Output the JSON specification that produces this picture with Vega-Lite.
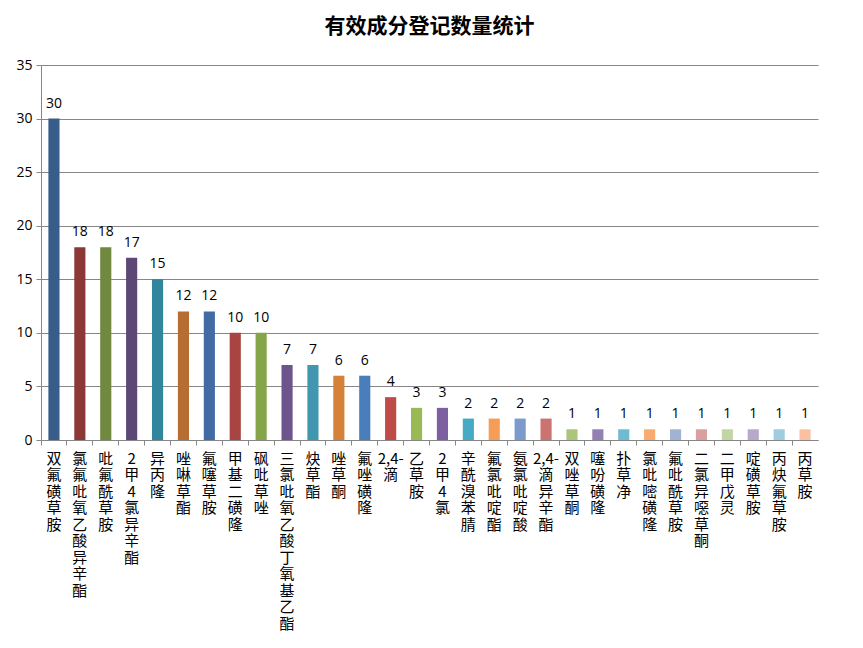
{
  "$schema": "https://vega.github.io/schema/vega-lite/v6.json",
  "width": 777,
  "height": 375,
  "autosize": {"type": "none"},
  "padding": {"left": 41, "top": 65, "right": 45, "bottom": 208},
  "background": "white",
  "title": {
    "text": "有效成分登记数量统计",
    "font": "Noto Sans CJK SC",
    "fontSize": 21,
    "fontWeight": "bold",
    "color": "#000000",
    "anchor": "middle",
    "offset": 21
  },
  "data": {
    "values": [
      {"name": "双氟磺草胺", "count": 30},
      {"name": "氯氟吡氧乙酸异辛酯", "count": 18},
      {"name": "吡氟酰草胺", "count": 18},
      {"name": "2甲4氯异辛酯", "count": 17},
      {"name": "异丙隆", "count": 15},
      {"name": "唑啉草酯", "count": 12},
      {"name": "氟噻草胺", "count": 12},
      {"name": "甲基二磺隆", "count": 10},
      {"name": "砜吡草唑", "count": 10},
      {"name": "三氯吡氧乙酸丁氧基乙酯", "count": 7},
      {"name": "炔草酯", "count": 7},
      {"name": "唑草酮", "count": 6},
      {"name": "氟唑磺隆", "count": 6},
      {"name": "2,4-滴", "count": 4},
      {"name": "乙草胺", "count": 3},
      {"name": "2甲4氯", "count": 3},
      {"name": "辛酰溴苯腈", "count": 2},
      {"name": "氟氯吡啶酯", "count": 2},
      {"name": "氨氯吡啶酸", "count": 2},
      {"name": "2,4-滴异辛酯", "count": 2},
      {"name": "双唑草酮", "count": 1},
      {"name": "噻吩磺隆", "count": 1},
      {"name": "扑草净", "count": 1},
      {"name": "氯吡嘧磺隆", "count": 1},
      {"name": "氟吡酰草胺", "count": 1},
      {"name": "二氯异噁草酮", "count": 1},
      {"name": "二甲戊灵", "count": 1},
      {"name": "啶磺草胺", "count": 1},
      {"name": "丙炔氟草胺", "count": 1},
      {"name": "丙草胺", "count": 1}
    ]
  },
  "encoding": {
    "x": {
      "field": "name",
      "type": "nominal",
      "sort": null,
      "scale": {"paddingInner": 0, "paddingOuter": 0},
      "axis": {
        "title": null,
        "labelAngle": 0,
        "bandPosition": 0,
        "labelFont": "Noto Sans CJK SC",
        "labelFontSize": 15,
        "labelColor": "#000000",
        "labelLineHeight": 16.5,
        "labelBaseline": "top",
        "labelPadding": 6,
        "labelAlign": "center",
        "labelExpr": "datum.label == '2,4-滴' ? ['2,4-', '滴'] : datum.label == '2,4-滴异辛酯' ? ['2,4-', '滴', '异', '辛', '酯'] : split(datum.label, '')",
        "labelOverlap": false,
        "labelLimit": 0,
        "labelBound": false,
        "domainColor": "#868686",
        "tickColor": "#868686",
        "tickSize": 5,
        "grid": false
      }
    }
  },
  "layer": [
    {
      "mark": {"type": "bar", "width": {"band": 0.43}},
      "encoding": {
        "y": {
          "field": "count",
          "type": "quantitative",
          "scale": {"domain": [0, 35], "nice": false},
          "axis": {
            "title": null,
            "values": [0, 5, 10, 15, 20, 25, 30, 35],
            "labelFont": "Open Sans",
            "labelFontSize": 14,
            "labelColor": "#000000",
            "labelPadding": 4,
            "tickSize": 5,
            "tickColor": "#868686",
            "domainColor": "#868686",
            "gridColor": "#868686",
            "gridWidth": 1
          }
        },
        "color": {
          "field": "name",
          "type": "nominal",
          "legend": null,
          "scale": {
            "domain": ["双氟磺草胺", "氯氟吡氧乙酸异辛酯", "吡氟酰草胺", "2甲4氯异辛酯", "异丙隆", "唑啉草酯", "氟噻草胺", "甲基二磺隆", "砜吡草唑", "三氯吡氧乙酸丁氧基乙酯", "炔草酯", "唑草酮", "氟唑磺隆", "2,4-滴", "乙草胺", "2甲4氯", "辛酰溴苯腈", "氟氯吡啶酯", "氨氯吡啶酸", "2,4-滴异辛酯", "双唑草酮", "噻吩磺隆", "扑草净", "氯吡嘧磺隆", "氟吡酰草胺", "二氯异噁草酮", "二甲戊灵", "啶磺草胺", "丙炔氟草胺", "丙草胺"],
            "range": ["#385D8A", "#8C3836", "#71893F", "#5C4776", "#31859C", "#B66D31", "#426AA3", "#A84442", "#86A44A", "#6E548D", "#4197AE", "#D68138", "#4A7DBB", "#BE4B48", "#98B954", "#7D60A0", "#46AAC5", "#F59D56", "#7B9BCC", "#CB7371", "#ABC57B", "#9481B3", "#6FBBD3", "#F9AB6F", "#A1B3D5", "#D9A09E", "#C4D5A4", "#B6A9C9", "#9ECDDD", "#FAC0A0"]
          }
        }
      }
    },
    {
      "mark": {"type": "text", "baseline": "bottom", "dy": -8, "font": "Open Sans", "fontSize": 14, "color": "#000000"},
      "encoding": {
        "y": {"field": "count", "type": "quantitative"},
        "text": {"field": "count", "type": "quantitative"}
      }
    }
  ],
  "config": {
    "view": {"stroke": null}
  }
}
